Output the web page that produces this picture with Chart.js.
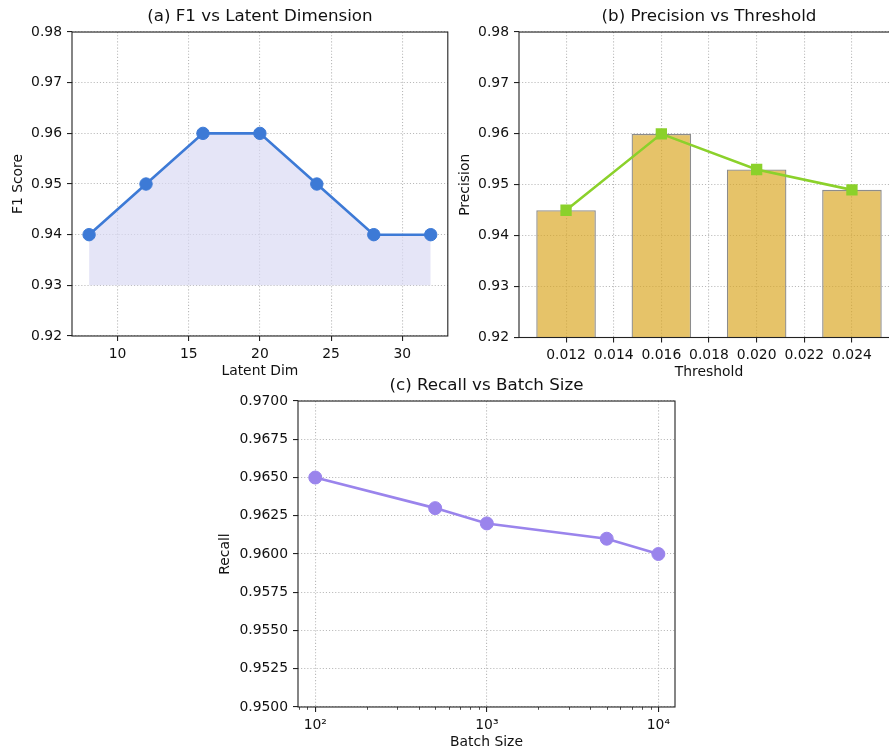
<!DOCTYPE html>
<html><head><meta charset="utf-8">
<script src="https://cdn.jsdelivr.net/npm/chart.js@4.4.0/dist/chart.umd.min.js"></script>
<style>
html,body{margin:0;padding:0;background:#fff;overflow:hidden;width:889px;height:754px;position:relative;}
canvas{position:absolute;}
</style></head><body>
<canvas id="cA" width="455" height="384" style="left:0;top:0"></canvas>
<canvas id="cB" width="455" height="384" style="left:455px;top:0"></canvas>
<canvas id="cC" width="490" height="384" style="left:200px;top:370px"></canvas>
<script>
// ---- data ----
const latentDims = [8, 12, 16, 20, 24, 28, 32];
const f1Scores = [0.94, 0.95, 0.96, 0.96, 0.95, 0.94, 0.94];
const latentTicks = [10, 15, 20, 25, 30];
const f1Ticks = [0.92, 0.93, 0.94, 0.95, 0.96, 0.97, 0.98];

const thresholds = [0.012, 0.016, 0.020, 0.024];
const precisions = [0.945, 0.960, 0.953, 0.949];
const thresholdTicks = [0.012, 0.014, 0.016, 0.018, 0.020, 0.022, 0.024];
const precisionTicks = [0.92, 0.93, 0.94, 0.95, 0.96, 0.97, 0.98];

const batchSizes = [100, 500, 1000, 5000, 10000];
const recalls = [0.965, 0.963, 0.962, 0.961, 0.960];
const batchTicks = [100, 1000, 10000];
const batchTickLabels = ['10\u00B2', '10\u00B3', '10\u2074'];
const recallTicks = [0.95, 0.9525, 0.955, 0.9575, 0.96, 0.9625, 0.965, 0.9675, 0.97];

// ---- style ----
Chart.defaults.font.family = "'DejaVu Sans', sans-serif";
Chart.defaults.color = '#111';
Chart.defaults.animation = false;
const FS_TICK = 13.9, FS_LABEL = 13.9, FS_TITLE = 16.7;
const GRID = '#b9b9b9';

const framePlugin = {
  id: 'frame',
  afterDraw(chart) {
    const {ctx, chartArea: a} = chart;
    ctx.save();
    ctx.strokeStyle = '#222';
    ctx.lineWidth = 1.1;
    ctx.strokeRect(a.left, a.top, a.right - a.left, a.bottom - a.top);
    ctx.restore();
  }
};

function titleOpts(text) {
  return {display: true, fullSize: false, text, font: {size: FS_TITLE, weight: 'normal', lineHeight: 1.2}, padding: {top: 0, bottom: 5}, color: '#111'};
}
function axisCommon(ticksArr, fmt, fixSize, horiz, titleText, titlePad) {
  return {
    grid: {color: GRID, lineWidth: 1.1, tickColor: '#222', tickLength: 5, tickWidth: 1.1, drawOnChartArea: true, offset: false},
    border: {display: false, dash: [1.1, 2]},
    ticks: {font: {size: FS_TICK}, padding: 5, autoSkip: false, maxRotation: 0, color: '#111',
      callback: (v) => fmt(v)},
    afterBuildTicks: s => { s.ticks = ticksArr.map(v => ({value: v})); },
    afterFit: s => { if (horiz) s.height = fixSize; else s.width = fixSize; },
    title: {display: true, text: titleText, font: {size: FS_LABEL, lineHeight: 1.2}, padding: titlePad, color: '#111'}
  };
}

// ---- chart (a) ----
new Chart(document.getElementById('cA'), {
  type: 'line',
  data: {datasets: [{
    data: latentDims.map((x, i) => ({x, y: f1Scores[i]})),
    borderColor: '#3d7ad6', backgroundColor: 'rgba(218,218,244,0.7)',
    fill: {value: 0.93}, borderWidth: 2.6, tension: 0,
    pointRadius: 6.2, pointBackgroundColor: '#3d7ad6', pointBorderColor: '#3d7ad6', pointBorderWidth: 1
  }]},
  options: {
    responsive: false, devicePixelRatio: 1,
    layout: {padding: {top: 7, right: 6, left: 0, bottom: 0}},
    plugins: {legend: {display: false}, tooltip: {enabled: false}, title: titleOpts('(a) F1 vs Latent Dimension')},
    scales: {
      x: Object.assign({type: 'linear', min: 6.8, max: 33.2},
        axisCommon(latentTicks, v => String(v), 48, true, 'Latent Dim', {top: 0, bottom: 4.6})),
      y: Object.assign({type: 'linear', min: 0.92, max: 0.98},
        axisCommon(f1Ticks, v => v.toFixed(2), 72, false, 'F1 Score', {top: 9.6, bottom: 0}))
    }
  },
  plugins: [framePlugin]
});

// ---- chart (b) ----
new Chart(document.getElementById('cB'), {
  type: 'bar',
  data: {datasets: [
    {type: 'line', order: 0,
     data: thresholds.map((x, i) => ({x, y: precisions[i]})),
     borderColor: '#8bd12b', borderWidth: 2.6, tension: 0, fill: false,
     pointStyle: 'rect', pointRadius: 8, pointBackgroundColor: '#8bd12b', pointBorderColor: '#8bd12b', pointBorderWidth: 0},
    {type: 'bar', order: 1,
     data: thresholds.map((x, i) => ({x, y: precisions[i]})),
     backgroundColor: 'rgba(218,165,32,0.67)', borderColor: '#8c8c8c', borderWidth: 1.3, borderSkipped: false,
     barPercentage: 1.25, categoryPercentage: 1.0}
  ]},
  options: {
    responsive: false, devicePixelRatio: 1,
    layout: {padding: {top: 7, right: 11, left: 0, bottom: 0}},
    plugins: {legend: {display: false}, tooltip: {enabled: false}, title: titleOpts('(b) Precision vs Threshold')},
    scales: {
      x: Object.assign({type: 'linear', min: 0.010025, max: 0.025975, offset: false},
        axisCommon(thresholdTicks, v => v.toFixed(3), 46.5, true, 'Threshold', {top: 0, bottom: 3.1})),
      y: Object.assign({type: 'linear', min: 0.92, max: 0.98},
        axisCommon(precisionTicks, v => v.toFixed(2), 64, false, 'Precision', {top: 1.7, bottom: 0}))
    }
  },
  plugins: [framePlugin]
});

// ---- chart (c) ----
const minorTickPlugin = {
  id: 'minorTicks',
  afterDraw(chart) {
    const s = chart.scales.x, a = chart.chartArea, ctx = chart.ctx;
    ctx.save();
    ctx.strokeStyle = '#222'; ctx.lineWidth = 0.8;
    for (let e = 1; e <= 4; e++) {
      for (let m = 2; m <= 9; m++) {
        const v = m * Math.pow(10, e);
        if (v < s.min || v > s.max) continue;
        const px = Math.round(s.getPixelForValue(v)) + 0.5;
        ctx.beginPath(); ctx.moveTo(px, a.bottom); ctx.lineTo(px, a.bottom + 2.8); ctx.stroke();
      }
    }
    ctx.restore();
  }
};
const xC = axisCommon(batchTicks, v => batchTickLabels[batchTicks.indexOf(v)] || '', 47, true, 'Batch Size', {top: 0, bottom: 3.6});
new Chart(document.getElementById('cC'), {
  type: 'line',
  data: {datasets: [{
    data: batchSizes.map((x, i) => ({x, y: recalls[i]})),
    borderColor: '#9a84ec', borderWidth: 2.6, tension: 0, fill: false,
    pointRadius: 6.5, pointBackgroundColor: '#9a84ec', pointBorderColor: '#9a84ec', pointBorderWidth: 1
  }]},
  options: {
    responsive: false, devicePixelRatio: 1,
    layout: {padding: {top: 6, right: 15, left: 0, bottom: 0}},
    plugins: {legend: {display: false}, tooltip: {enabled: false}, title: titleOpts('(c) Recall vs Batch Size')},
    scales: {
      x: Object.assign({type: 'logarithmic', min: 79.3, max: 12500}, xC),
      y: Object.assign({type: 'linear', min: 0.95, max: 0.97},
        axisCommon(recallTicks, v => v.toFixed(4), 98, false, 'Recall', {top: 16.6, bottom: 0}))
    }
  },
  plugins: [framePlugin, minorTickPlugin]
});
</script>
</body></html>
